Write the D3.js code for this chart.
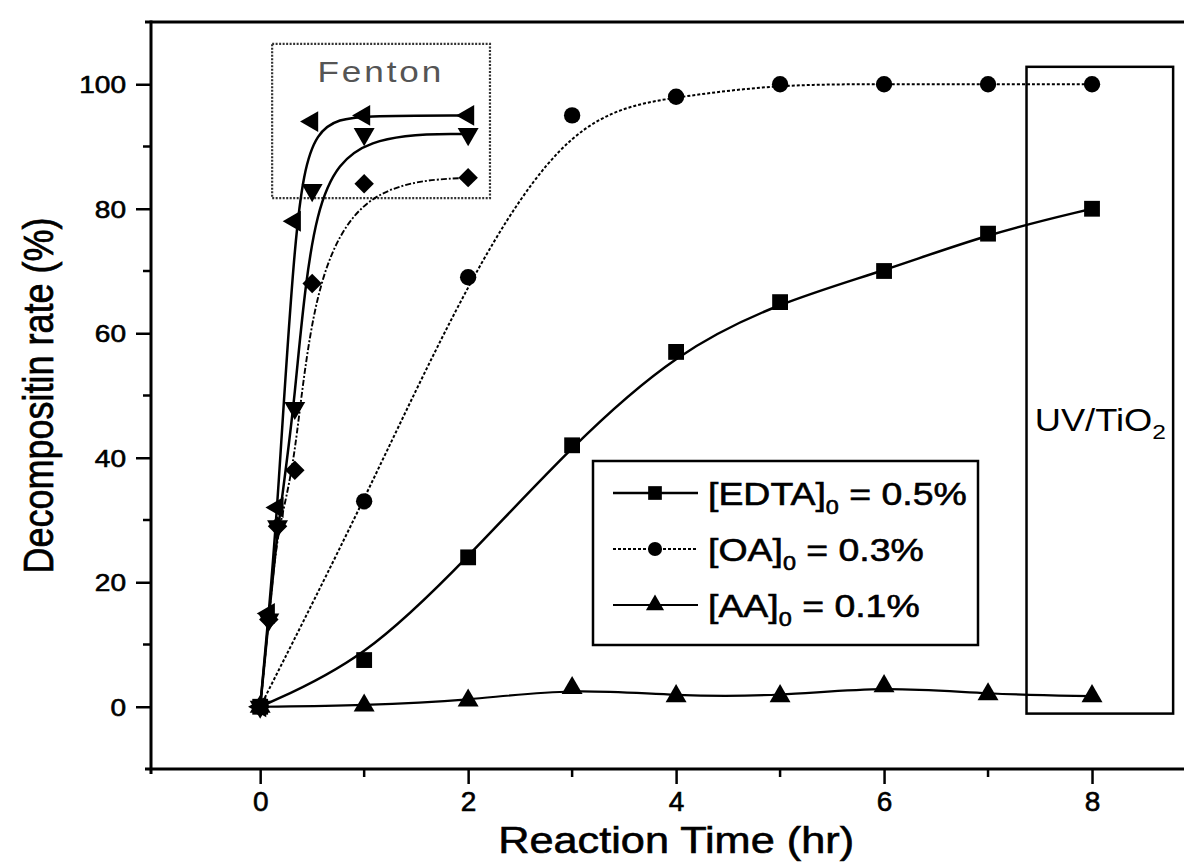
<!DOCTYPE html>
<html>
<head>
<meta charset="utf-8">
<script src="https://cdn.jsdelivr.net/npm/d3@7"></script>
<style>
  body { margin: 0; background: #fff; }
  text { font-family: "Liberation Sans", Arial, sans-serif; fill: #000; stroke: #000; stroke-width: 0.6px; }
</style>
</head>
<body>
<script>
// hourly series (UV/TiO2)
const hours = [0, 1, 2, 3, 4, 5, 6, 7, 8];
const edta = [0, 7.5, 24, 42, 57, 65, 70, 76, 80];
const oa = [0, 33, 69, 95, 98, 100, 100, 100, 100];
const aa = [0, 0.2, 1, 3, 1.7, 1.7, 3.3, 2, 1.7];

// Fenton series (short times)
const fentonTime = [0, 0.083, 0.167, 0.333, 0.5, 1, 2];
const fentonLeft = [0, 15, 32, 78, 94, 95, 95];
const fentonDown = [0, 14, 29, 48, 83, 92, 92];
const fentonDiamond = [0, 14, 29, 38, 68, 84, 85];

const xTicks = [0, 2, 4, 6, 8];
const xMinor = [1, 3, 5, 7];
const yTicks = [0, 20, 40, 60, 80, 100];
const yMinor = [10, 30, 50, 70, 90];

const legendLabels = [
  { name: "EDTA", rest: " = 0.5%" },
  { name: "OA", rest: " = 0.3%" },
  { name: "AA", rest: " = 0.1%" }
];

const W = 1184, H = 868;
const sx = 1.17; // scan is a bit stretched sideways

const svg = d3.select("body").append("svg")
  .attr("width", W).attr("height", H);

const x = d3.scaleLinear().domain([-1.05, 9]).range([151, 1196]);
const y = d3.scaleLinear().domain([-10, 110]).range([769, 22]);

const line = d3.line().curve(d3.curveBasis)
  .x(d => x(d[0])).y(d => y(d[1]));

function pairs(xs, ys) { return xs.map((v, i) => [v, ys[i]]); }

const series = [
  { pts: pairs(hours, edta), dash: null, w: 2.5, sym: d3.symbolSquare, size: 250, rot: 0 },
  { pts: pairs(hours, oa), dash: "3,2", w: 2, sym: d3.symbolCircle, size: 210, rot: 0 },
  { pts: pairs(hours, aa), dash: null, w: 2.2, sym: d3.symbolTriangle, size: 190, rot: 0 },
  { pts: pairs(fentonTime, fentonLeft), dash: null, w: 2.5, sym: d3.symbolTriangle, size: 190, rot: -90 },
  { pts: pairs(fentonTime, fentonDown), dash: null, w: 2.5, sym: d3.symbolTriangle, size: 190, rot: 180 },
  { pts: pairs(fentonTime, fentonDiamond), dash: "6,2,2,2", w: 1.9, sym: d3.symbolSquare, size: 190, rot: 45 }
];

// Fenton box (dotted) and UV/TiO2 box
svg.append("rect")
  .attr("x", x(0.115)).attr("y", y(106.5))
  .attr("width", x(2.21) - x(0.115)).attr("height", y(81.7) - y(106.5))
  .attr("fill", "none").attr("stroke", "#333").attr("stroke-width", 2.2)
  .attr("stroke-dasharray", "2,1.5");

svg.append("text")
  .attr("transform", `translate(${x(1.16)},${y(100.4)}) scale(${sx},1)`)
  .attr("text-anchor", "middle")
  .attr("font-size", 30).attr("letter-spacing", 2.5)
  .style("fill", "#555").style("stroke", "none")
  .text("Fenton");

svg.append("rect")
  .attr("x", x(7.37)).attr("y", y(102.8))
  .attr("width", x(8.78) - x(7.37)).attr("height", y(-1.1) - y(102.8))
  .attr("fill", "none").attr("stroke", "#000").attr("stroke-width", 2.5);

const uv = svg.append("text")
  .attr("transform", `translate(${x(8.08)},${y(44.3)}) scale(${sx},1)`)
  .attr("text-anchor", "middle").attr("font-size", 31)
  .style("stroke", "none");
uv.append("tspan").text("UV/TiO");
uv.append("tspan").attr("font-size", 21).attr("dy", 8).text("2");

// curves
series.forEach(s => {
  svg.append("path")
    .attr("d", line(s.pts))
    .attr("fill", "none").attr("stroke", "#000")
    .attr("stroke-width", s.w)
    .attr("stroke-dasharray", s.dash);
});

// markers
series.forEach(s => {
  svg.append("g").selectAll("path")
    .data(s.pts)
    .enter().append("path")
    .attr("d", d3.symbol(s.sym, s.size))
    .attr("transform", d => `translate(${x(d[0])},${y(d[1])}) rotate(${s.rot})`)
    .attr("fill", "#000");
});

// axes frame
const frame = svg.append("g").attr("stroke", "#000").attr("fill", "none");
frame.append("line").attr("x1", 145).attr("x2", W).attr("y1", y(110)).attr("y2", y(110)).attr("stroke-width", 3);
frame.append("line").attr("x1", 145).attr("x2", W).attr("y1", y(-10)).attr("y2", y(-10)).attr("stroke-width", 3);
frame.append("line").attr("x1", x(-1.05)).attr("x2", x(-1.05)).attr("y1", y(110) - 1.5).attr("y2", y(-10) + 5).attr("stroke-width", 3);

const xAxis = svg.append("g").attr("transform", `translate(0,${y(-10)})`);
xAxis.call(d3.axisBottom(x).tickValues(xTicks).tickSize(15).tickFormat(d3.format("d")));
const yAxis = svg.append("g").attr("transform", `translate(${x(-1.05)},0)`);
yAxis.call(d3.axisLeft(y).tickValues(yTicks).tickSize(15).tickFormat(d3.format("d")));

[xAxis, yAxis].forEach(g => {
  g.select(".domain").remove();
  g.selectAll(".tick line").attr("stroke-width", 2.5);
  g.selectAll(".tick text").style("font-family", "Liberation Sans, Arial");
});
xAxis.selectAll(".tick text").attr("y", 0).attr("dy", null)
  .attr("font-size", 28)
  .attr("transform", "translate(0,42)");
yAxis.selectAll(".tick text").attr("x", 0).attr("dy", "0.35em")
  .attr("font-size", 24)
  .attr("transform", `translate(-25,0) scale(${sx},1)`);

svg.append("g").selectAll("line").data(xMinor).enter().append("line")
  .attr("x1", d => x(d)).attr("x2", d => x(d))
  .attr("y1", y(-10)).attr("y2", y(-10) + 8)
  .attr("stroke", "#000").attr("stroke-width", 2.5);
svg.append("g").selectAll("line").data(yMinor).enter().append("line")
  .attr("x1", x(-1.05)).attr("x2", x(-1.05) - 8)
  .attr("y1", d => y(d)).attr("y2", d => y(d))
  .attr("stroke", "#000").attr("stroke-width", 2.5);

// axis titles
svg.append("text")
  .attr("transform", `translate(${x(4)},853) scale(${sx},1)`)
  .attr("text-anchor", "middle").attr("font-size", 37)
  .text("Reaction Time (hr)");
svg.append("text")
  .attr("transform", `translate(53,${y(50)}) rotate(-90) scale(1,${sx})`)
  .attr("text-anchor", "middle").attr("font-size", 36)
  .text("Decompositin rate (%)");

// legend
const lg = svg.append("g");
lg.append("rect")
  .attr("x", 593).attr("y", 461).attr("width", 385).attr("height", 184)
  .attr("fill", "#fff").attr("stroke", "#000").attr("stroke-width", 2.5);

const rowY = [493, 549, 605];
legendLabels.forEach((l, i) => {
  const s = series[i];
  const r = lg.append("g").attr("transform", `translate(0,${rowY[i]})`);
  r.append("line").attr("x1", 613).attr("x2", 698).attr("y1", 0).attr("y2", 0)
    .attr("stroke", "#000").attr("stroke-width", s.w).attr("stroke-dasharray", s.dash);
  r.append("path").attr("d", d3.symbol(s.sym, s.size * 0.75))
    .attr("transform", "translate(655,0)").attr("fill", "#000");
  const t = r.append("text")
    .attr("transform", `translate(708,12) scale(${sx},1)`)
    .attr("font-size", 32);
  t.append("tspan").text("[" + l.name + "]");
  t.append("tspan").attr("font-size", 20).attr("dy", 9).text("0");
  t.append("tspan").attr("dy", -9).text(l.rest);
});
</script>
</body>
</html>
